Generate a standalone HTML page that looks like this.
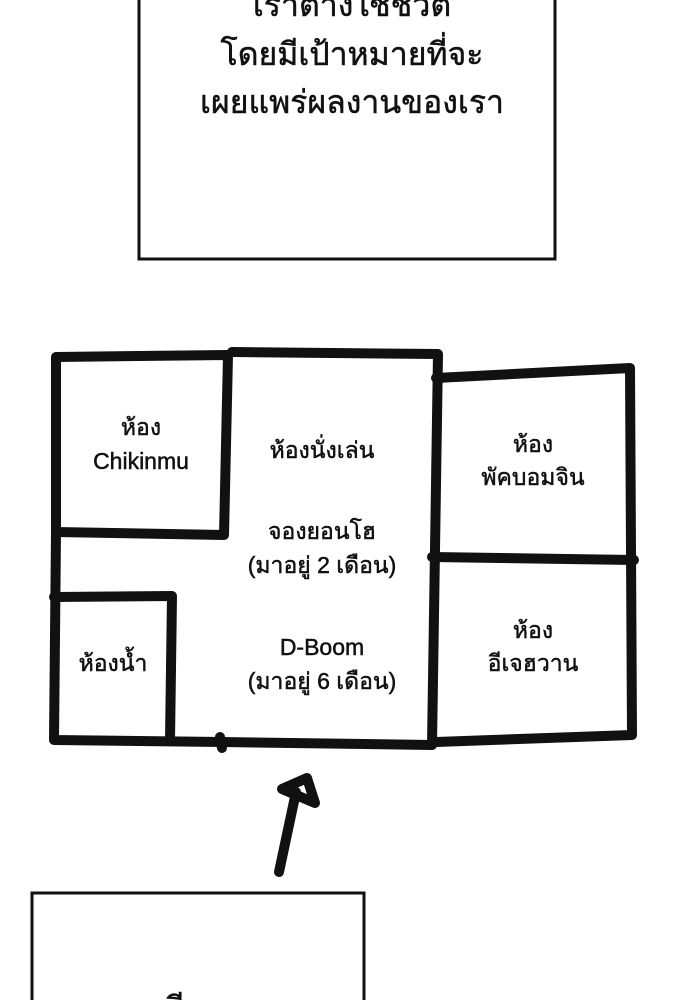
<!DOCTYPE html>
<html><head><meta charset="utf-8"><style>
html,body{margin:0;padding:0;background:#fff;width:690px;height:1000px;overflow:hidden}
svg{display:block}
text{font-family:"Liberation Sans","Noto Sans CJK SC",sans-serif;fill:#111;text-anchor:middle;stroke:#111;stroke-width:0.5}
</style></head><body>
<svg width="690" height="1000" viewBox="0 0 690 1000">
<rect x="139" y="-10" width="416" height="269" fill="none" stroke="#111" stroke-width="3"/>
<text x="352" y="16" font-size="32">เราต่างใช้ชีวิต</text>
<text x="352" y="65" font-size="32">โดยมีเป้าหมายที่จะ</text>
<text x="352" y="113" font-size="32">เผยแพร่ผลงานของเรา</text>

<g fill="none" stroke="#111" stroke-width="10" stroke-linecap="round" stroke-linejoin="round">
<path d="M56 357 L228 355 L224 535 L56 532 Z"/>
<path d="M56 532 L54 740 L222 742 L432 745"/>
<path d="M232 352 L438 354 L432 745"/>
<path d="M436 378 L630 368 L632 735 L436 742"/>
<path d="M432 557 L634 560"/>
<path d="M54 597 L172 596 L170 740"/>
<path d="M220 737 L222 748"/>
<path d="M279 872 L296 792"/>
<path d="M282 789 L307 778 L315 803 Z"/>
</g>

<text x="141" y="435" font-size="23">ห้อง</text>
<text x="141" y="469" font-size="23">Chikinmu</text>
<text x="322" y="458" font-size="23">ห้องนั่งเล่น</text>
<text x="322" y="539" font-size="23">จองยอนโฮ</text>
<text x="322" y="573" font-size="23">(มาอยู่ 2 เดือน)</text>
<text x="322" y="655" font-size="23">D-Boom</text>
<text x="322" y="689" font-size="23">(มาอยู่ 6 เดือน)</text>
<text x="113" y="671" font-size="23">ห้องน้ำ</text>
<text x="533" y="452" font-size="23">ห้อง</text>
<text x="533" y="485" font-size="23">พัคบอมจิน</text>
<text x="533" y="638" font-size="23">ห้อง</text>
<text x="533" y="671" font-size="23">อีเจฮวาน</text>

<rect x="32" y="893" width="332" height="130" fill="none" stroke="#111" stroke-width="3"/>
<text x="205" y="1019" font-size="32">มีแพต</text>
</svg>
</body></html>
